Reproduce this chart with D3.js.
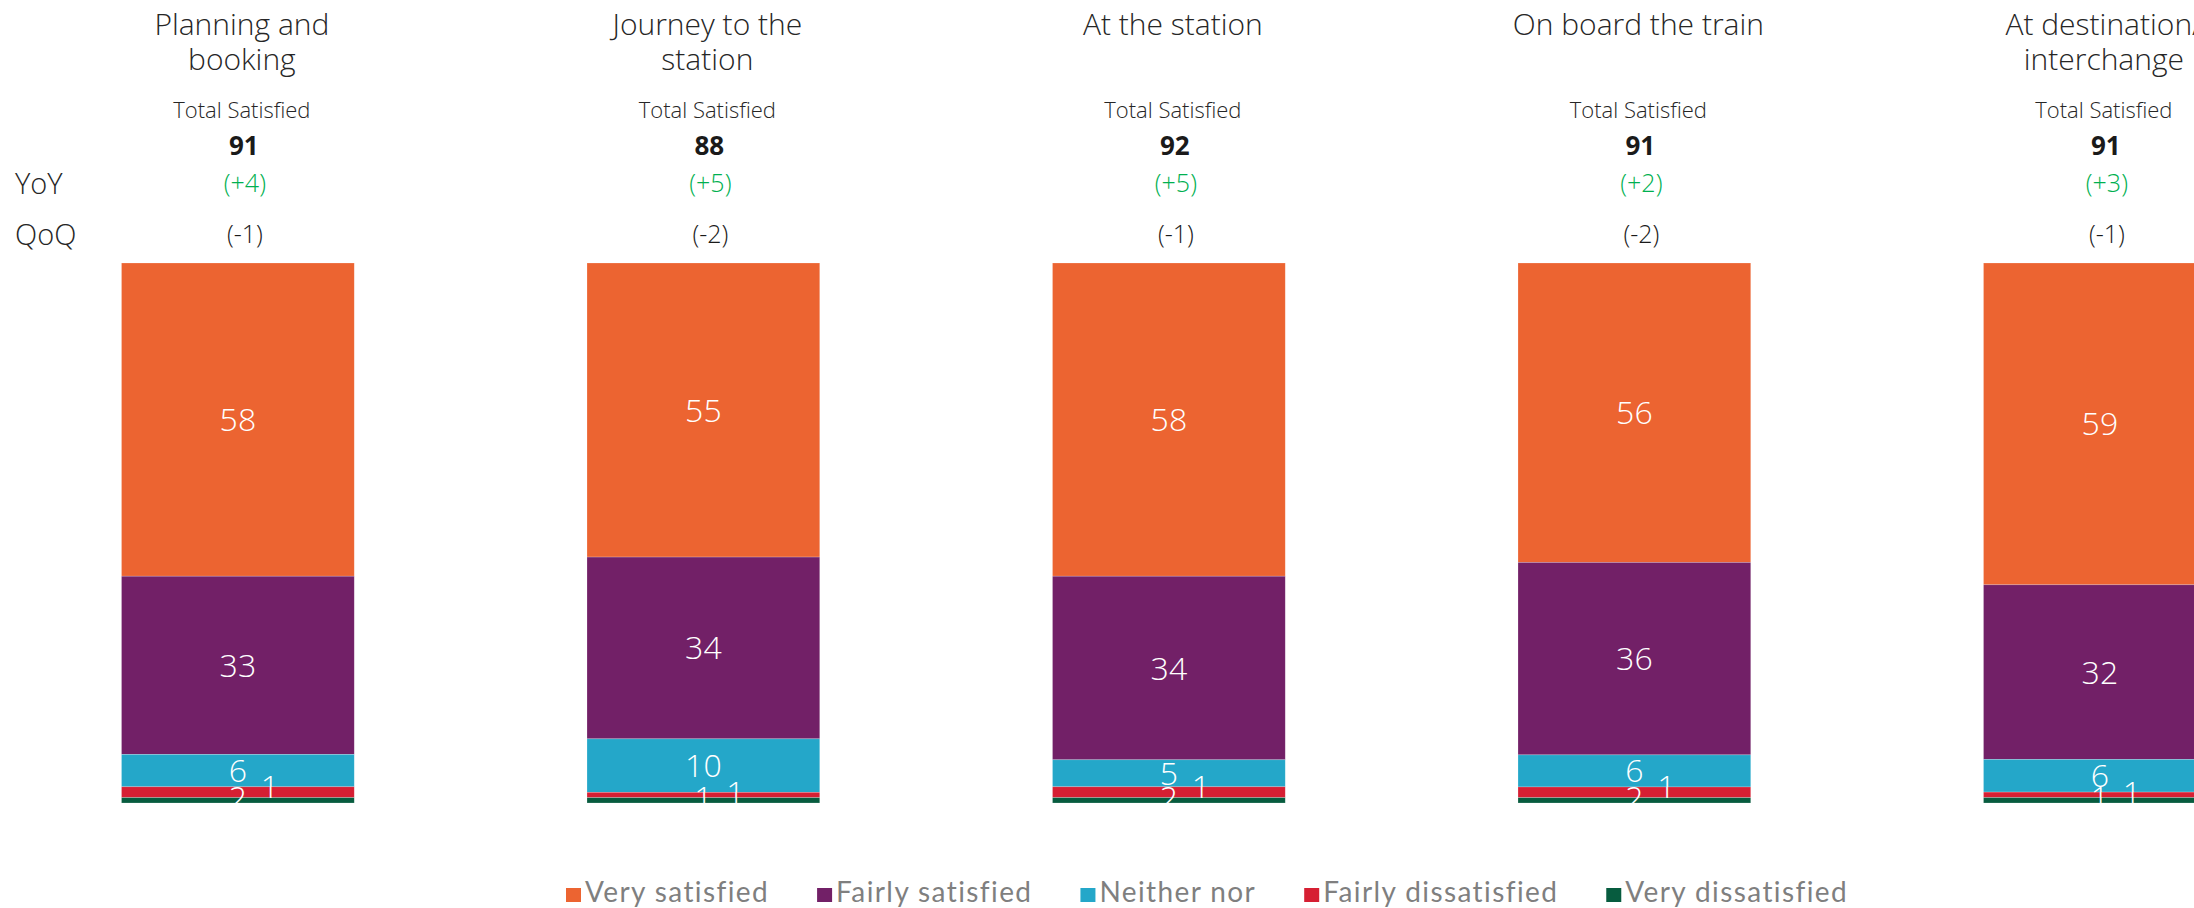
<!DOCTYPE html>
<head>
    <script type="text/javascript" src="https://d3js.org/d3.v7.min.js"></script>
    <style>
        body { margin: 0; background: #fff; }
        .chart text { font-family: "Open Sans", sans-serif; }
        .head { fill: #262626; font-weight: 300; text-anchor: middle; }
        .val { fill: #fff; font-size: 32px; font-weight: 300; text-anchor: middle; }
        .legend text { font-family: Lato, sans-serif; fill: #7f7f7f; font-size: 28px; letter-spacing: 1.4px; }
    </style>
</head>
<body>
<svg class="chart" width="2194" height="908"></svg>

<script>
    // categories and values
    var titles = [["Planning and", "booking"], ["Journey to the", "station"], ["At the station"],
                  ["On board the train"], ["At destination/", "interchange"]];
    var series = ["Very satisfied", "Fairly satisfied", "Neither nor", "Fairly dissatisfied", "Very dissatisfied"];
    var verySatisfied      = [58, 55, 58, 56, 59];
    var fairlySatisfied    = [33, 34, 34, 36, 32];
    var neitherNor         = [6, 10, 5, 6, 6];
    var fairlyDissatisfied = [2, 1, 2, 2, 1];
    var veryDissatisfied   = [1, 1, 1, 1, 1];
    var totalSatisfied = [91, 88, 92, 91, 91];
    var yoy = ["(+4)", "(+5)", "(+5)", "(+2)", "(+3)"];
    var qoq = ["(-1)", "(-2)", "(-1)", "(-2)", "(-1)"];

    var colors = ["#ec6431", "#722067", "#24a7c9", "#d61f33", "#075c3f"];

    var rows = titles.map(function(t, i) {
        return { idx: i, "Very satisfied": verySatisfied[i], "Fairly satisfied": fairlySatisfied[i],
                 "Neither nor": neitherNor[i], "Fairly dissatisfied": fairlyDissatisfied[i],
                 "Very dissatisfied": veryDissatisfied[i] };
    });

    var svg = d3.select(".chart");

    var x = d3.scaleBand()
        .domain(d3.range(titles.length))
        .range([121.5, 2216.25])
        .paddingInner(0.5)
        .paddingOuter(0);

    var y = d3.scaleLinear().domain([0, 1]).range([803, 263]);

    var color = d3.scaleOrdinal().domain(series).range(colors);

    // very satisfied on top, very dissatisfied at the bottom
    var stacked = d3.stack().keys(series)
        .order(d3.stackOrderReverse)
        .offset(d3.stackOffsetExpand)(rows);

    svg.append("clipPath").attr("id", "plot")
        .append("rect").attr("x", 0).attr("y", 0).attr("width", 2194).attr("height", 803);

    // bars
    var layer = svg.selectAll("g.layer")
        .data(stacked)
        .enter().append("g")
        .attr("class", "layer")
        .attr("fill", function(d) { return color(d.key); });

    layer.selectAll("rect")
        .data(function(d) { return d; })
        .enter().append("rect")
        .attr("x", function(d, i) { return x(i); })
        .attr("y", function(d) { return y(d[1]); })
        .attr("height", function(d) { return y(d[0]) - y(d[1]); })
        .attr("width", x.bandwidth())
        .attr("stroke", "rgba(255,255,255,0.35)")
        .attr("stroke-width", 0.6);

    // value labels
    var labels = svg.append("g").attr("clip-path", "url(#plot)");
    stacked.forEach(function(s, k) {
        s.forEach(function(d, i) {
            var cx = x(i) + x.bandwidth() / 2, cy = (y(d[0]) + y(d[1])) / 2;
            if (k === 3) { cy = y(d[0]); }
            if (k === 4) { cx += 32; cy = y(stacked[3][i][1]); }
            labels.append("text")
                .attr("class", "val")
                .attr("x", cx)
                .attr("y", cy)
                .attr("dy", ".36em")
                .text(d.data[s.key]);
        });
    });

    // headers
    titles.forEach(function(t, i) {
        var cx = x(i) + x.bandwidth() / 2 + 4;
        t.forEach(function(line, j) {
            svg.append("text").attr("class", "head")
                .attr("x", cx).attr("y", 35 + j * 35)
                .style("font-size", "30px")
                .text(line);
        });
        svg.append("text").attr("class", "head")
            .attr("x", cx).attr("y", 118)
            .style("font-size", "22px")
            .text("Total Satisfied");
        svg.append("text").attr("class", "head")
            .attr("x", cx + 2).attr("y", 155)
            .style("font-size", "26px").style("font-weight", 700).style("fill", "#1a1a1a")
            .text(totalSatisfied[i]);
        svg.append("text").attr("class", "head")
            .attr("x", cx + 3).attr("y", 192)
            .style("font-size", "25px").style("fill", "#00b050")
            .text(yoy[i]);
        svg.append("text").attr("class", "head")
            .attr("x", cx + 3).attr("y", 243)
            .style("font-size", "25px").style("fill", "#1a1a1a")
            .text(qoq[i]);
    });

    svg.append("text").attr("x", 15).attr("y", 194)
        .style("font-size", "29px").style("font-weight", 300).style("fill", "#262626").text("YoY");
    svg.append("text").attr("x", 15).attr("y", 245)
        .style("font-size", "29px").style("font-weight", 300).style("fill", "#262626").text("QoQ");

    // legend
    var legend = svg.append("g").attr("class", "legend");
    var lx = 566;
    series.forEach(function(s) {
        legend.append("rect")
            .attr("x", lx).attr("y", 888)
            .attr("width", 15).attr("height", 14)
            .attr("fill", color(s));
        var t = legend.append("text")
            .attr("x", lx + 19).attr("y", 902)
            .text(s);
        lx += 19 + t.node().getComputedTextLength() + 48;
    });
</script>
</body>
